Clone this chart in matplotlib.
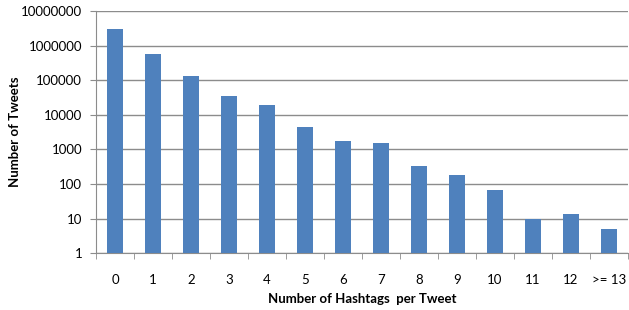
import matplotlib
matplotlib.use("Agg")
import matplotlib.pyplot as plt
from matplotlib.ticker import FixedLocator, NullLocator, FuncFormatter

# data
categories = ["0", "1", "2", "3", "4", "5", "6", "7", "8", "9", "10", "11", "12", ">= 13"]
tweets = [3000000, 572000, 129000, 34200, 18800, 4600, 1700, 1500, 330, 182, 66, 9.5, 13.3, 5.2]
y_ticks = [1, 10, 100, 1000, 10000, 100000, 1000000, 10000000]

plt.rcParams["font.family"] = ["Lato", "DejaVu Sans"]

fig = plt.figure(figsize=(6.29, 3.10), dpi=100)
ax = fig.add_axes([96 / 629, 1 - 253.3 / 310, 532 / 629, (253.3 - 11) / 310])

x = list(range(len(categories)))
ax.bar(x, tweets, width=0.41, color="#4F81BD", zorder=3)

ax.set_yscale("log")
ax.set_ylim(1, 10000000)
ax.set_xlim(-0.5, len(categories) - 0.5)
ax.yaxis.set_major_locator(FixedLocator(y_ticks))
ax.yaxis.set_minor_locator(NullLocator())
ax.yaxis.set_major_formatter(FuncFormatter(lambda v, p: f"{int(round(v))}"))
ax.grid(axis="y", color="#8C8C8C", linewidth=1, zorder=0)

ax.set_xticks(x)
ax.set_xticklabels(categories)
ax.xaxis.set_minor_locator(FixedLocator([i - 0.5 for i in range(len(categories) + 1)]))
ax.tick_params(axis="x", which="major", length=0, pad=15, labelsize=9.5, colors="#000000")
ax.tick_params(axis="x", which="minor", length=4, color="#8C8C8C", direction="out")
ax.tick_params(axis="y", length=4, color="#8C8C8C", pad=6, labelsize=9.5)

for s in ["top", "right"]:
    ax.spines[s].set_visible(False)
for s in ["left", "bottom"]:
    ax.spines[s].set_color("#8C8C8C")

# axis titles placed in figure pixels so they stay inside the canvas
fig.text(362 / 629, 1 - 299 / 310, "Number of Hashtags  per Tweet", fontsize=9.5,
         fontweight="bold", ha="center", va="center")
fig.text(15 / 629, 1 - 132 / 310, "Number of Tweets", fontsize=9.5,
         fontweight="bold", ha="center", va="center", rotation=90)

fig.savefig("out.png", dpi=100)
